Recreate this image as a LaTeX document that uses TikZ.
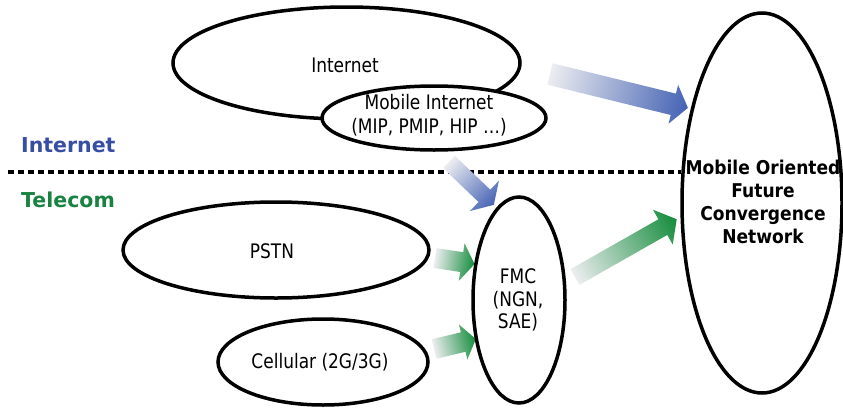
\documentclass[tikz,border=0pt]{standalone}
\usepackage{fontspec}
\setmainfont{DejaVu Sans}
\newfontfamily\condfont{DejaVu Sans}[FakeStretch=0.85]
\newfontfamily\condbold{DejaVu Sans Bold}[FakeStretch=0.9]
\usetikzlibrary{shapes.geometric}
\definecolor{ablue}{RGB}{68,98,180}
\definecolor{lblue}{RGB}{55,78,165}
\definecolor{agreen}{RGB}{20,140,60}
\definecolor{lgreen}{RGB}{25,130,65}
\definecolor{tailgray}{RGB}{236,237,240}
\tikzset{
  oval/.style={ellipse, draw=black, line width=3.5pt, inner sep=0pt},
  txt/.style={font=\condfont\fontsize{20}{24.5}\selectfont, align=center, inner sep=0pt},
  bigtxt/.style={font=\condbold\fontsize{19}{23}\selectfont, align=center, inner sep=0pt},
  side/.style={font=\fontsize{20.5}{24}\selectfont\bfseries, inner sep=0pt, anchor=west},
  sepline/.style={line width=3.5pt, dash pattern=on 6pt off 4pt},
}
% #1 tail coordinate, #2 angle, #3 length, #4 shaft half width, #5 head half width, #6 head length, #7 colour
\newcommand{\fatarr}[7]{%
  \begin{scope}[transform canvas={shift={(#1)},rotate=#2}]
    \shade[left color=tailgray, right color=#7]
      (0,-#4) -- ({#3-#6},-#4) -- ({#3-#6},-#5) -- (#3,0) -- ({#3-#6},#5)
      -- ({#3-#6},#4) -- (0,#4) -- cycle;
  \end{scope}}
\begin{document}
\begin{tikzpicture}[x=1pt,y=-1pt]
\useasboundingbox[fill=white] (0,0) rectangle (843,410);

% Internet side
\node[oval, minimum width=347, minimum height=112] (inet) at (346.5,63) {};
\node[oval, fill=white, minimum width=224, minimum height=64] (mob) at (434,118) {};

% separator
\coordinate (sepL) at (8,172);
\coordinate (sepR) at (681,172);
\draw[sepline] (sepL) -- (sepR);

% arrows
\coordinate (a1) at (550,74);
\coordinate (a2) at (449,162);
\coordinate (a3) at (575,277);
\coordinate (a4) at (435,258);
\coordinate (a5) at (434,349);
\fatarr{a1}{-13.8}{142}{11}{20}{15}{ablue}
\fatarr{a2}{-43.7}{62}{8.5}{21}{13}{ablue}
\fatarr{a3}{29.6}{117}{9}{20}{16}{agreen}
\fatarr{a4}{-8.7}{40}{10}{19}{13}{agreen}
\fatarr{a5}{13.4}{43}{10}{18}{13}{agreen}

% Telecom side
\node[oval, minimum width=306, minimum height=96] (pstn) at (276,250) {};
\node[oval, minimum width=210, minimum height=86] (cell) at (323,362) {};
\node[oval, minimum width=92, minimum height=206] (fmc) at (519,300) {};
\node[oval, minimum width=160, minimum height=380] (mofc) at (762,203) {};

% texts
\node[txt] (inettxt) at (345,65) {Internet};
\node[txt] (mobtxt) at (429,115) {Mobile Internet\\(MIP, PMIP, HIP \ldots)};
\node[txt] (pstntxt) at (272,251) {PSTN};
\node[txt] (celltxt) at (320,362) {Cellular (2G/3G)};
\node[txt, font=\condfont\fontsize{20}{22.5}\selectfont] (fmctxt) at (518,300) {FMC\\(NGN,\\SAE)};
\node[bigtxt] (mofctxt) at (763,202) {Mobile Oriented\\Future\\Convergence\\Network};
\node[side, text=lblue] (inetlab) at (21,145) {Internet};
\node[side, text=lgreen] (telelab) at (21,200) {Telecom};
\end{tikzpicture}
\end{document}
